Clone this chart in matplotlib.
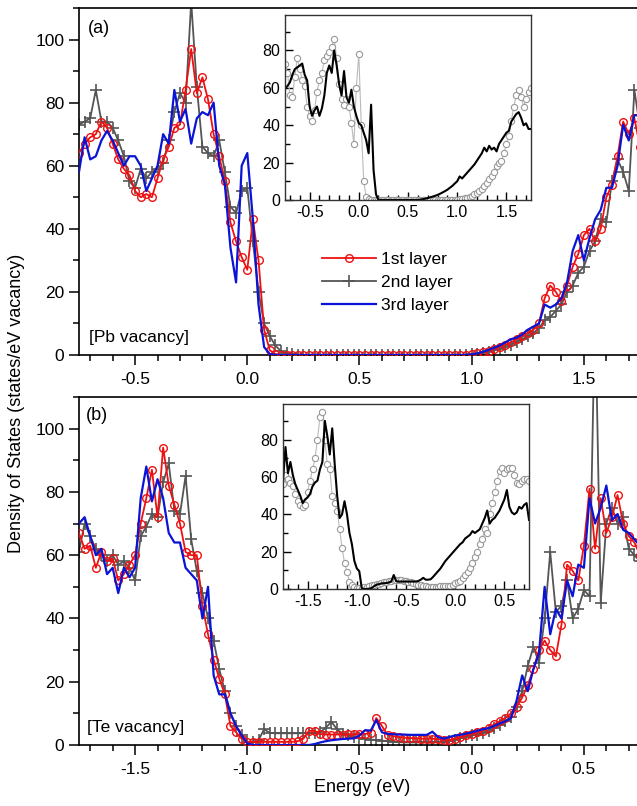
import numpy as np
import matplotlib.pyplot as plt
from matplotlib.ticker import MultipleLocator

plt.rcParams['font.family'] = ['Liberation Sans', 'DejaVu Sans']
plt.rcParams['axes.unicode_minus'] = False
plt.rcParams['font.size'] = 12.5

# energy grids, 0.025 eV spacing
e_pb = np.linspace(-0.75, 1.75, 101)
e_te = np.linspace(-1.75, 0.75, 101)

# (a) Pb vacancy, layer-resolved DOS
pb_layer1 = [64, 67, 69, 70, 74, 72, 67, 62, 59, 57,
             52, 50, 51, 50, 56, 62, 66, 72, 73, 84,
             97, 83, 88, 81, 70, 63, 55, 42, 36, 31,
             27, 43, 30, 8, 1.5, 0.3, 0, 0, 0, 0,
             0, 0, 0, 0, 0, 0, 0, 0, 0, 0,
             0, 0, 0, 0, 0, 0, 0, 0, 0, 0,
             0, 0, 0, 0, 0, 0, 0, 0, 0, 0,
             0.2, 0.5, 0.9, 1.4, 2.0, 2.6, 3.3, 4.0, 5.0, 6.0,
             7.0, 8.0, 10, 18, 22, 20, 17, 22, 28, 32,
             38, 40, 36, 40, 50, 54, 63, 74, 70, 75, 66]
pb_layer2 = [73, 74, 75, 84, 74, 74, 72, 68, 63, 55,
             53, 59, 56, 58, 59, 61, 68, 77, 83, 80,
             112, 85, 66, 64, 63, 68, 58, 47, 45, 52,
             53, 36, 20, 10, 6, 3, 1.2, 0.5, 0.2, 0,
             0, 0, 0, 0, 0, 0, 0, 0, 0, 0,
             0, 0, 0, 0, 0, 0, 0, 0, 0, 0,
             0, 0, 0, 0, 0, 0, 0, 0, 0, 0,
             0.2, 0.4, 0.7, 1.0, 1.5, 2.0, 2.6, 3.3, 4.2, 5.0,
             6.0, 7.0, 8.5, 11, 12, 14, 16, 20, 22, 26,
             28, 33, 36, 43, 42, 55, 62, 58, 52, 84, 72]
pb_layer3 = [58, 69, 62, 63, 68, 71, 68, 64, 60, 63,
             63, 60, 52, 56, 60, 70, 67, 84, 74, 78,
             67, 75, 77, 76, 80, 60, 54, 34, 23, 60,
             64, 43, 16, 2.5, 0.3, 0, 0, 0, 0, 0,
             0, 0, 0, 0, 0, 0, 0, 0, 0, 0,
             0, 0, 0, 0, 0, 0, 0, 0, 0, 0,
             0, 0, 0, 0, 0, 0, 0, 0, 0, 0,
             0.2, 0.5, 1.0, 1.6, 2.3, 3.0, 4.0, 5.0, 5.5, 6.5,
             8.0, 9.0, 10, 16, 15, 16, 18, 23, 33, 38,
             30, 37, 43, 46, 53, 53, 60, 73, 68, 76, 76]

# (b) Te vacancy, layer-resolved DOS
te_layer1 = [67, 62, 63, 56, 61, 58, 59, 52, 54, 57,
             60, 70, 78, 87, 72, 94, 82, 76, 70, 61,
             60, 60, 44, 35, 27, 21, 16, 6, 4, 2,
             1, 1, 1, 1, 1, 1, 1, 1, 1, 1.2,
             2.0, 4.5, 4.5, 3.5, 3.3, 3.3, 3.3, 3.3, 3.4, 3.4,
             3.5, 3.5, 3.8, 8.5, 6, 3.2, 2.8, 2.5, 2.3, 2.2,
             2.1, 2.0, 2.0, 2.0, 1.8, 1.6, 1.6, 2.0, 2.5, 3.0,
             3.5, 4.0, 4.5, 5.5, 6.5, 7.5, 8.5, 10, 12, 15,
             19, 24, 30, 33, 30, 28, 38, 57, 55, 52,
             63, 81, 62, 78, 67, 72, 79, 70, 66, 64, 60]
te_layer2 = [61, 70, 66, 62, 60, 58, 60, 57, 58, 56,
             52, 66, 69, 73, 72, 83, 89, 74, 73, 85,
             65, 55, 48, 40, 33, 24, 17, 10, 6, 3,
             1, 0.8, 1.5, 5, 3.8, 3.7, 3.7, 3.7, 3.7, 3.7,
             3.7, 3.8, 3.8, 4.0, 5.5, 7.3, 5, 3.5, 3.0, 2.6,
             2.1, 1.9, 1.7, 1.6, 1.4, 1.2, 1.0, 0.9, 0.8, 0.8,
             0.8, 0.8, 0.8, 0.8, 0.9, 1.0, 1.3, 1.7, 2.1, 2.6,
             3.0, 3.3, 3.8, 4.5, 5.3, 6.3, 7.5, 9, 12, 17,
             25, 31, 26, 40, 61, 42, 44, 52, 40, 43,
             49, 47, 140, 45, 70, 75, 70, 72, 62, 60, 58]
te_layer3 = [70, 72, 66, 60, 62, 54, 56, 48, 56, 53,
             56, 78, 88, 77, 84, 78, 67, 64, 64, 56,
             54, 52, 40, 50, 22, 16, 16, 10, 6, 3,
             0.5, 0, 0, 0, 0, 0, 0, 0, 0, 0,
             0, 0, 0.3, 0.8, 1.2, 1.5, 1.7, 1.9, 2.0, 2.1,
             3.0, 4.7, 4.5, 7.9, 4.0, 3.5, 3.4, 3.3, 3.3, 3.2,
             3.2, 3.2, 3.2, 4.2, 2.5, 2.0, 2.5, 3.0, 3.2, 3.6,
             4.0, 4.5, 5.0, 5.3, 6.0, 6.8, 7.5, 8.5, 14, 22,
             17, 24, 29, 50, 35, 43, 40, 52, 47, 57,
             56, 78, 70, 75, 82, 71, 73, 68, 67, 65, 63]

# insets: black line and grey circles
pb_inset_line = [59.5, 61, 63, 67, 70, 71, 72, 73, 67, 64,
                 50, 45, 48, 50, 45, 49, 56, 68, 72, 68,
                 80, 72, 62, 56, 69, 55, 52, 59, 50, 45,
                 41, 40, 36, 32, 25, 51, 16, 3, 0, 0,
                 0, 0, 0, 0, 0, 0, 0, 0, 0, 0,
                 0, 0, 0, 0, 0, 0.2, 0.4, 0.7, 1.0, 1.4,
                 1.8, 2.2, 2.7, 3.3, 4.0, 4.7, 5.5, 6.5, 7.5, 8.8,
                 10, 12.6, 11.5, 13, 14.5, 16, 17.5, 19, 21, 23,
                 25, 28, 26, 29, 27, 28, 26, 30, 32, 34,
                 36, 37, 42, 44, 46, 47, 44, 40, 41, 38, 38]
pb_inset_circ = [73, 68, 56, 55, 66, 76, 70, 64, 61, 50,
                 45, 42, 48, 58, 64, 68, 75, 77, 79, 82,
                 86, 76, 62, 54, 51, 54, 50, 41, 30, 60,
                 78, 40, 10, 1.5, 0.3, 0, 0, 0, 0, 0,
                 0, 0, 0, 0, 0, 0, 0, 0, 0, 0,
                 0, 0, 0, 0, 0, 0, 0, 0, 0, 0,
                 0, 0, 0, 0, 0, 0, 0, 0, 0, 0,
                 0.2, 0.4, 0.6, 0.9, 1.2, 1.6, 2.1, 3.0, 3.8, 4.8,
                 6, 7.5, 9, 11, 13, 15, 18, 20, 21, 25,
                 30, 34, 42, 50, 56, 59, 55, 50, 54, 58, 60]
te_inset_line = [58, 76, 62, 68, 61, 56, 53, 50, 46, 48,
                 49, 51, 55, 57, 58, 64, 68, 90, 82, 72,
                 86, 67, 50, 38, 40, 47, 40, 30, 24, 15,
                 11, 9.5, 0.5, 0, 0, 0.2, 0.5, 1.5, 2.3, 2.6,
                 3.0, 3.1, 3.2, 3.5, 4.0, 7.5, 4.2, 4.0, 4.0, 4.0,
                 4.0, 4.0, 4.0, 4.0, 4.0, 4.3, 5.0, 6.0, 5.0, 5.0,
                 5.2, 6.5, 8, 9.5, 11, 13, 15, 16.5, 18, 19.5,
                 21, 22.5, 24, 25, 27, 28, 29, 31, 30, 31,
                 32, 35, 38, 42, 35, 37, 38, 40, 42, 45,
                 48, 53, 44, 41, 40, 41, 44, 43, 45, 46, 37]
te_inset_circ = [56, 61, 59, 57, 55, 51, 47, 45, 44, 45,
                 52, 58, 64, 70, 80, 92, 95, 80, 67, 64,
                 50, 46, 42, 32, 22, 14, 9, 4, 2, 1.2,
                 0.6, 0.6, 0.8, 1.0, 1.3, 1.6, 1.9, 2.2, 2.5, 2.9,
                 3.2, 3.5, 3.8, 4.1, 4.4, 4.7, 4.9, 4.8, 4.6, 4.4,
                 4.1, 3.8, 3.5, 3.1, 2.7, 2.3, 2.0, 1.7, 1.5, 1.3,
                 1.2, 1.2, 1.3, 1.3, 1.4, 1.4, 1.4, 1.5, 1.7, 2.2,
                 3, 3.5, 4.5, 6, 7.5, 9, 11, 14, 17, 20,
                 24, 27, 32, 30, 40, 46, 52, 58, 63, 65,
                 62, 64, 65, 65, 61, 57, 56, 58, 59, 59, 58]

labels = ['1st layer', '2nd layer', '3rd layer']


def main_panel(ax, e, l1, l2, l3, xlim):
    ax.plot(e, l2, '-', color='#555555', lw=1.3, marker='+', ms=8, mew=1.2, zorder=2, label=labels[1])
    ax.plot(e, l1, '-', color='#ee1111', lw=1.3, marker='o', ms=5.5, mfc='none', mew=1.0, zorder=3, label=labels[0])
    ax.plot(e, l3, '-', color='#0a14d6', lw=1.6, zorder=4, label=labels[2])
    ax.set_xlim(*xlim)
    ax.set_ylim(0, 110)
    ax.xaxis.set_major_locator(MultipleLocator(0.5))
    ax.xaxis.set_minor_locator(MultipleLocator(0.1))
    ax.yaxis.set_major_locator(MultipleLocator(20))
    ax.yaxis.set_minor_locator(MultipleLocator(10))
    ax.tick_params(which='major', direction='out', length=7, width=1.1, labelsize=12.5)
    ax.tick_params(which='minor', direction='out', length=4, width=1.1)
    ax.tick_params(axis='x', which='major', pad=5)
    for s in ax.spines.values():
        s.set_linewidth(1.2)


def inset_panel(ax, e, line, circ, xlim):
    ax.plot(e, circ, '-', color='#bbbbbb', lw=0.8, marker='o', ms=4.5, mfc='white', mec='#999999', mew=0.8)
    ax.plot(e, line, '-', color='black', lw=1.5)
    ax.set_xlim(*xlim)
    ax.set_ylim(0, 99)
    ax.xaxis.set_major_locator(MultipleLocator(0.5))
    ax.xaxis.set_minor_locator(MultipleLocator(0.1))
    ax.yaxis.set_major_locator(MultipleLocator(20))
    ax.yaxis.set_minor_locator(MultipleLocator(10))
    ax.tick_params(which='major', direction='in', length=6, width=1, labelsize=11.5)
    ax.tick_params(which='minor', direction='in', length=3.5, width=1)
    for s in ax.spines.values():
        s.set_linewidth(1.0)
        s.set_color('#333333')


fig = plt.figure(figsize=(6.37, 8.06), dpi=100)
ax_a = fig.add_axes([0.124, 0.5596, 0.8807, 0.4305])
ax_b = fig.add_axes([0.124, 0.0757, 0.8807, 0.4318])

main_panel(ax_a, e_pb, pb_layer1, pb_layer2, pb_layer3, (-0.75, 1.75))
main_panel(ax_b, e_te, te_layer1, te_layer2, te_layer3, (-1.75, 0.75))

ax_a.text(0.015, 0.965, '(a)', transform=ax_a.transAxes, ha='left', va='top', fontsize=13)
ax_a.text(0.018, 0.03, '[Pb vacancy]', transform=ax_a.transAxes, ha='left', va='bottom', fontsize=12.5)
ax_b.text(0.012, 0.972, '(b)', transform=ax_b.transAxes, ha='left', va='top', fontsize=13)
ax_b.text(0.015, 0.03, '[Te vacancy]', transform=ax_b.transAxes, ha='left', va='bottom', fontsize=12.5)

h, l = ax_a.get_legend_handles_labels()
order = [1, 0, 2]
ax_a.legend([h[i] for i in order], [l[i] for i in order], loc='upper left',
            bbox_to_anchor=(322 / 637, 1 - 252 / 806), bbox_transform=fig.transFigure,
            frameon=False, borderpad=0, borderaxespad=0, handlelength=3.1,
            handletextpad=0.3, labelspacing=0.45, fontsize=12.5)

in_a = fig.add_axes([0.4474, 0.7519, 0.3862, 0.2295])
in_b = fig.add_axes([0.4443, 0.2692, 0.3862, 0.2295])
inset_panel(in_a, e_pb, pb_inset_line, pb_inset_circ, (-0.75, 1.75))
inset_panel(in_b, e_te, te_inset_line, te_inset_circ, (-1.75, 0.75))

fig.text(17 / 637, 0.5, 'Density of States (states/eV vacancy)', rotation=90,
         ha='center', va='center', fontsize=13)
fig.text(362 / 637, 1 - 787 / 806, 'Energy (eV)', ha='center', va='center', fontsize=13)

fig.savefig('out.png', dpi=100)
